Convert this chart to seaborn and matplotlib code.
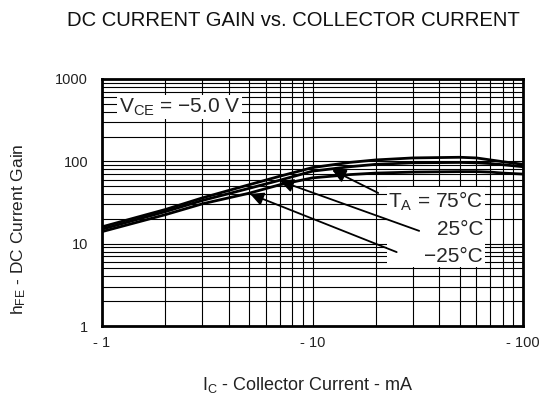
import numpy as np
import pandas as pd
import matplotlib
matplotlib.use('Agg')
import matplotlib.pyplot as plt
import matplotlib.ticker as mticker
import seaborn as sns

# collector current (mA, magnitude) and DC current gain per ambient temperature
ic_ma = [1, 2, 3, 5, 7, 10, 15, 20, 30, 50, 60, 70, 80, 100]
hfe_75c = [16, 26, 36, 52, 66, 84, 97, 104, 110, 112, 110, 104, 99, 92]
hfe_25c = [15, 24.5, 33.5, 47, 59, 76, 86, 92, 96, 97, 96, 94, 91, 86]
hfe_m25c = [14, 22.5, 30.5, 41, 52, 63, 69, 72, 74, 75, 75, 74, 72, 70]

x_ticks = [1, 10, 100]
x_tick_labels = ['- 1', '- 10', '- 100']
y_ticks = [1, 10, 100, 1000]
y_tick_labels = ['1', '10', '100', '1000']

# arrow tip / tail positions in data coordinates (current, gain)
arrow_75 = ((12.4, 78.6), (20.5, 41.3))
arrow_25 = ((7.0, 57.8), (32.1, 14.3))
arrow_m25 = ((5.05, 40.2), (25.1, 7.9))

sns.set_style('white')
plt.rcParams['font.family'] = ['Liberation Sans', 'DejaVu Sans']
plt.rcParams['mathtext.fontset'] = 'custom'
plt.rcParams['mathtext.rm'] = 'Liberation Sans'
plt.rcParams['mathtext.it'] = 'Liberation Sans'

df = pd.DataFrame({
    'Ic': ic_ma * 3,
    'hFE': hfe_75c + hfe_25c + hfe_m25c,
    'Temp': ['75'] * len(ic_ma) + ['25'] * len(ic_ma) + ['-25'] * len(ic_ma),
})

fig = plt.figure(figsize=(5.46, 4.0), dpi=100)
ax = fig.add_axes([0.1868, 0.185, 0.7712, 0.6175])

sns.lineplot(data=df, x='Ic', y='hFE', units='Temp', estimator=None,
             color='black', lw=2, ax=ax, zorder=3)

ax.set_xscale('log')
ax.set_yscale('log')
ax.set_xlim(1, 100)
ax.set_ylim(1, 1000)

ax.xaxis.set_minor_locator(mticker.LogLocator(subs=np.arange(2, 10)))
ax.yaxis.set_minor_locator(mticker.LogLocator(subs=np.arange(2, 10)))
ax.xaxis.set_minor_formatter(mticker.NullFormatter())
ax.yaxis.set_minor_formatter(mticker.NullFormatter())
ax.set_xticks(x_ticks)
ax.set_xticklabels(x_tick_labels)
ax.set_yticks(y_ticks)
ax.set_yticklabels(y_tick_labels)
ax.tick_params(which='both', length=0, labelsize=10.5, colors='#222222')
ax.tick_params(axis='x', pad=7)
ax.tick_params(axis='y', pad=10)

ax.grid(which='both', color='black', lw=0.8)
ax.set_axisbelow(True)
for s in ax.spines.values():
    s.set_color('black')
    s.set_linewidth(2)

ax.set_xlabel(r'I$_{\mathrm{C}}$ - Collector Current - mA', fontsize=13, color='#222222')
ax.xaxis.set_label_coords(0.49, -0.2)
ax.set_ylabel(r'h$_{\mathrm{FE}}$ - DC Current Gain', fontsize=12.5, color='#222222')
ax.yaxis.set_label_coords(-0.175, 0.393)

fig.text(0.537, 0.948, 'DC CURRENT GAIN vs. COLLECTOR CURRENT', ha='center', va='center',
         fontsize=14.6, color='#111111')

ax.text(0.04, 0.887, r'V$_{\mathrm{CE}}$ = −5.0 V', transform=ax.transAxes,
        ha='left', va='center', fontsize=15, zorder=5,
        bbox=dict(facecolor='white', edgecolor='none', pad=1))

ax.text(0.905, 0.398, 'T$_{\\mathrm{A}}$ = 75°C\n25°C\n−25°C', transform=ax.transAxes,
        ha='right', va='center', multialignment='right', fontsize=15,
        linespacing=1.5, zorder=5,
        bbox=dict(facecolor='white', edgecolor='none', pad=1))

for tip, tail in [arrow_75, arrow_25, arrow_m25]:
    ax.annotate('', xy=tip, xytext=tail,
                arrowprops=dict(arrowstyle='-|>', color='black', lw=1.3,
                                mutation_scale=20, shrinkA=0, shrinkB=0),
                zorder=6)

fig.savefig('out.png', dpi=100)
